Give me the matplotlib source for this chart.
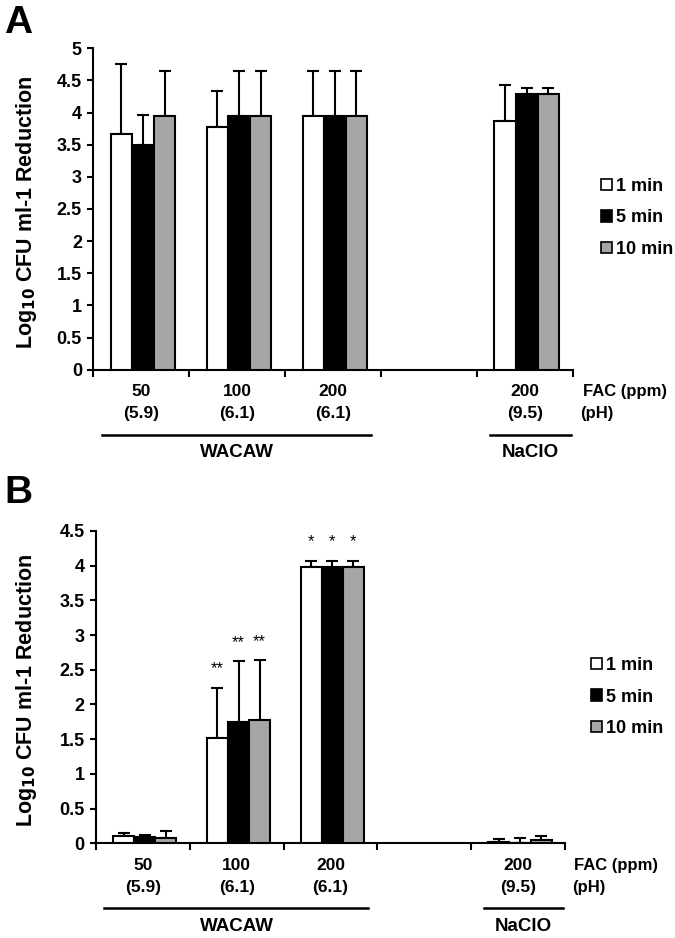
import matplotlib
matplotlib.use("Agg")
import matplotlib.pyplot as plt
import matplotlib.transforms as mtransforms
from matplotlib.patches import Patch
import numpy as np

plt.rcParams['font.family'] = ['Liberation Sans', 'DejaVu Sans']
plt.rcParams['font.weight'] = 'bold'

# x slots: 50, 100, 200 (WACAW), empty, 200 (NaClO)
fac_labels = ['50', '100', '200', '', '200']
ph_labels = ['(5.9)', '(6.1)', '(6.1)', '', '(9.5)']
data_slots = [0, 1, 2, 4]
series_names = ['1 min', '5 min', '10 min']
series_colors = ['white', 'black', '#a6a6a6']

# panel A
a_vals = [[3.67, 3.78, 3.95, 3.87],
          [3.50, 3.95, 3.95, 4.29],
          [3.95, 3.95, 3.95, 4.29]]
a_err = [[1.08, 0.56, 0.70, 0.56],
         [0.47, 0.70, 0.70, 0.10],
         [0.70, 0.70, 0.70, 0.10]]

# panel B
b_vals = [[0.10, 1.52, 3.98, 0.025],
          [0.09, 1.75, 3.98, 0.01],
          [0.07, 1.78, 3.98, 0.04]]
b_err = [[0.05, 0.72, 0.09, 0.035],
         [0.03, 0.87, 0.09, 0.07],
         [0.10, 0.86, 0.09, 0.07]]
b_stars = [['', '**', '*', ''],
           ['', '**', '*', ''],
           ['', '**', '*', '']]

fig = plt.figure(figsize=(6.75, 9.38), dpi=100)
axA = fig.add_axes([0.1378, 0.6059, 0.711, 0.3426])
axB = fig.add_axes([0.1422, 0.1010, 0.6948, 0.3330])

bw = 0.225


def below(trans, dy):
    # shift a transform down by dy pixels
    return trans + mtransforms.ScaledTranslation(0, -dy / 100.0, fig.dpi_scale_trans)


def draw_panel(ax, vals, errs, ymax, ystep, stars=None, label_x=-0.12):
    x = np.array(data_slots) + 0.52
    for k in range(3):
        xs = x + (k - 1) * bw
        ax.bar(xs, vals[k], bw, color=series_colors[k], edgecolor='black',
               linewidth=1.5, label=series_names[k], zorder=3)
        ax.errorbar(xs, vals[k], yerr=[np.zeros(len(vals[k])), errs[k]],
                    fmt='none', ecolor='black', elinewidth=1.5, capsize=4,
                    capthick=1.5, zorder=2)
        if stars is not None:
            for xi, v, e, s in zip(xs, vals[k], errs[k], stars[k]):
                if s:
                    ax.text(xi, v + e + 0.27, s, ha='center', va='center',
                            fontsize=12, fontweight='normal')
    ax.set_xlim(0, 5)
    ax.set_ylim(0, ymax)
    ticks = np.arange(0, ymax + 0.01, ystep)
    ax.set_yticks(ticks)
    ax.set_yticklabels(['%g' % t for t in ticks])
    ax.set_xticks(range(6))
    ax.set_xticklabels([])
    ax.tick_params(axis='x', which='major', length=5, width=1.5, direction='out')
    ax.tick_params(axis='y', length=4, width=1.5, direction='out',
                   labelsize=13, pad=4)
    for lab in ax.get_yticklabels():
        lab.set_fontweight('bold')
    for sp in ['top', 'right']:
        ax.spines[sp].set_visible(False)
    for sp in ['left', 'bottom']:
        ax.spines[sp].set_linewidth(1.5)
    ax.set_ylabel('Log$_{\\mathbf{10}}$ CFU ml-1 Reduction', fontsize=15.5,
                  fontweight='bold')
    ax.yaxis.set_label_coords(label_x, 0.49)

    trans = mtransforms.blended_transform_factory(ax.transData, ax.transAxes)
    for i, (f, p) in enumerate(zip(fac_labels, ph_labels)):
        ax.text(i + 0.5, 0, f, transform=below(trans, 22), fontsize=12.5,
                fontweight='bold', ha='center', va='center')
        ax.text(i + 0.5, 0, p, transform=below(trans, 44), fontsize=12.5,
                fontweight='bold', ha='center', va='center')
    ax.text(5.1, 0, 'FAC (ppm)', transform=below(trans, 22), fontsize=12,
            fontweight='bold', va='center', ha='left')
    ax.text(5.08, 0, '(pH)', transform=below(trans, 44), fontsize=12,
            fontweight='bold', va='center', ha='left')
    # group lines
    ax.plot([0.09, 2.9], [0, 0], transform=below(trans, 65), color='black',
            lw=1.8, clip_on=False)
    ax.plot([4.14, 4.98], [0, 0], transform=below(trans, 65), color='black',
            lw=1.8, clip_on=False)
    ax.text(1.5, 0, 'WACAW', transform=below(trans, 83), fontsize=13.5,
            fontweight='bold', ha='center', va='center')
    ax.text(4.56, 0, 'NaClO', transform=below(trans, 83), fontsize=13.5,
            fontweight='bold', ha='center', va='center')


draw_panel(axA, a_vals, a_err, 5, 0.5, label_x=-0.113)
draw_panel(axB, b_vals, b_err, 4.5, 0.5, stars=b_stars, label_x=-0.122)

for ax, anchor in [(axA, (601 / 675, 1 - 218 / 938)),
                   (axB, (591 / 675, 1 - 697 / 938))]:
    handles = [Patch(facecolor=c, edgecolor='black', linewidth=1.2)
               for c in series_colors]
    ax.legend(handles, series_names, loc='center left', bbox_to_anchor=anchor,
              bbox_transform=fig.transFigure, frameon=False,
              handlelength=0.6, handleheight=0.6, handletextpad=0.25,
              labelspacing=0.8, borderpad=0, borderaxespad=0,
              prop={'weight': 'bold', 'size': 13})

fig.text(0.006, 0.995, 'A', fontsize=28, fontweight='bold', va='top', ha='left')
fig.text(0.006, 0.494, 'B', fontsize=28, fontweight='bold', va='top', ha='left')

fig.savefig('out.png', dpi=100)
